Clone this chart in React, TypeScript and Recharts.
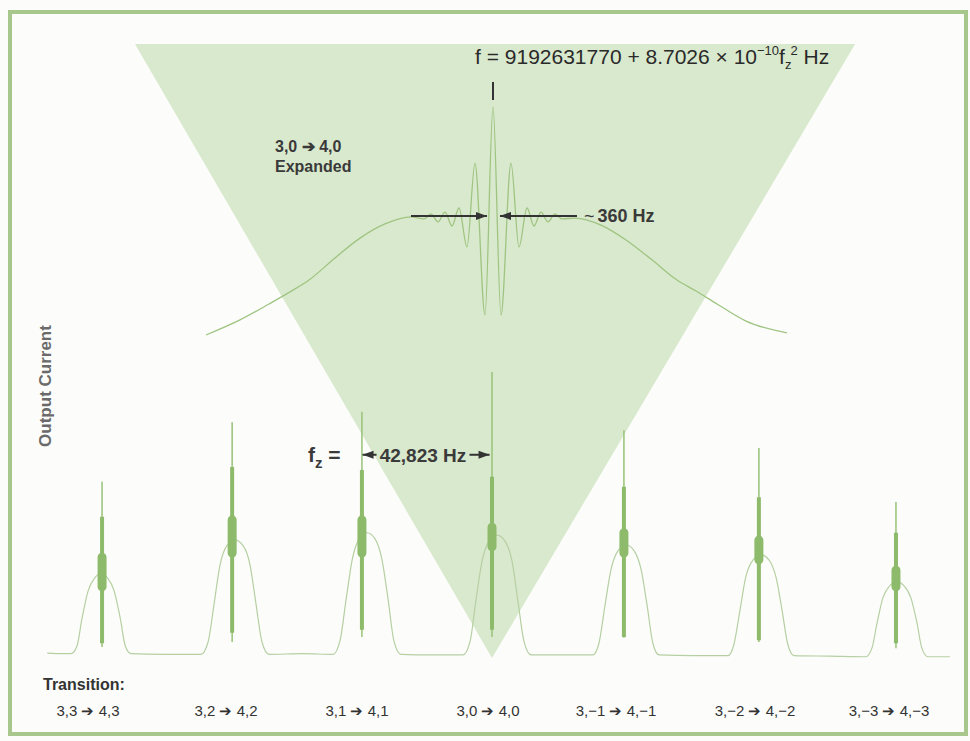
import React from "react";
import {
  ComposedChart,
  Line,
  Area,
  XAxis,
  YAxis,
  ReferenceLine,
  ReferenceDot,
} from "recharts";

// ---------------- data ----------------
// Lower trace: frequency offset from the 3,0 -> 4,0 line (kHz) vs output current (arb.)
const lowerKHz = [
  -146.0, -141.0,
  -138.2, -136.2, -134.6, -132.6, -130.3, -128.3, -126.3, -124.0, -122.0, -120.4, -118.5,
  -108.0,
  -95.5, -93.2, -91.2, -89.3, -87.0, -84.3, -81.7, -79.4, -77.5, -75.5, -73.2,
  -62.0,
  -52.2, -49.9, -47.9, -45.9, -43.6, -41.0, -38.4, -36.1, -34.1, -32.2, -29.9,
  -20.0,
  -9.5, -7.2, -5.3, -3.3, -1.0, 1.6, 4.3, 6.6, 8.5, 10.5, 12.8,
  23.0,
  33.1, 35.1, 37.1, 39.1, 41.4, 44.0, 46.6, 48.9, 50.9, 52.8, 54.8,
  66.0,
  77.5, 79.4, 81.4, 83.3, 85.7, 88.3, 90.9, 93.2, 95.2, 97.1, 99.1,
  111.0,
  122.7, 124.7, 126.4, 128.3, 130.6, 132.9, 135.2, 137.5, 139.5, 141.1, 143.1,
  150.3,
];
const lowerCurrent = [
  0.8, 0.7,
  0.7, 2.0, 6.4, 10.9, 13.1, 13.8, 13.1, 10.9, 6.4, 2.0, 0.7,
  0.6,
  0.6, 2.6, 8.9, 15.1, 18.3, 19.2, 18.3, 15.1, 8.9, 2.6, 0.6,
  0.7,
  0.6, 2.8, 9.5, 16.0, 19.4, 20.4, 19.4, 16.0, 9.5, 2.8, 0.6,
  0.5,
  0.5, 2.7, 9.3, 15.7, 19.0, 20.0, 19.0, 15.7, 9.3, 2.7, 0.5,
  0.5,
  0.5, 2.4, 8.6, 14.5, 17.5, 18.4, 17.5, 14.5, 8.6, 2.4, 0.5,
  0.4,
  0.4, 2.2, 7.8, 13.2, 16.0, 16.8, 16.0, 13.2, 7.8, 2.2, 0.4,
  0.3,
  0.2, 1.6, 5.7, 9.8, 11.8, 12.4, 11.8, 9.8, 5.7, 1.6, 0.2,
  0.2,
];

// Ramsey fringes sitting on each Rabi pedestal
const peakLabels = [
  "3,3 \u2794 4,3",
  "3,2 \u2794 4,2",
  "3,1 \u2794 4,1",
  "3,0 \u2794 4,0",
  "3,\u22121 \u2794 4,\u22121",
  "3,\u22122 \u2794 4,\u22122",
  "3,\u22123 \u2794 4,\u22123",
];
const peakKHz = [-128.0, -85.3, -42.7, 0, 43.3, 87.6, 132.6];
const spikeTop = [28.7, 38.4, 40.1, 46.6, 37.1, 34.2, 25.4];
const spikeBottom = [1.8, 2.6, 3.4, 3.4, 3.3, 2.6, 1.6];
const bandTop = [23.0, 31.1, 30.6, 29.5, 27.9, 26.2, 20.4];
const bandBottom = [2.4, 4.1, 4.6, 4.6, 3.4, 2.9, 2.4];
const blobTop = [16.4, 22.5, 22.5, 21.3, 20.4, 19.2, 14.3];
const blobBottom = [11.6, 17.1, 17.1, 18.1, 17.1, 16.0, 11.6];

// Expanded 3,0 -> 4,0 line: offset (Hz) vs output current (arb.)
const expandedHz = [
  -11480, -10120, -8960, -8120, -7360, -6320, -5320, -4320, -3280, -2760, -2480, -2200,
  -1920, -1640, -1360, -1040, -720, -320, 0, 320, 720, 1040, 1360, 1640, 1920, 2200,
  2480, 2760, 3280, 4320, 5320, 6320, 7360, 8120, 8960, 10120, 11760,
];
const expandedCurrent = [
  0, 6.6, 13.6, 18.9, 24.1, 33.8, 42.5, 48.7, 51.8, 50.9, 53.1, 49.6,
  53.9, 47.8, 55.7, 38.6, 75.4, 8.8, 100, 8.8, 75.4, 38.6, 55.7, 47.8, 53.9, 49.6,
  53.1, 50.9, 51.3, 48.2, 41.7, 33.3, 24.1, 19.3, 13.6, 6.1, 0.9,
];

// "Magnifier" wedge from the expanded view down to the centre line (main axes)
const wedgeKHz = [-117.2, 0, 119.2];
const wedgeLow = [100, 0, 100];
const wedgeHigh = [100, 100, 100];

// Annotation values
const fzSpacingKHz = [-42.5, -0.8]; // f_z = 42,823 Hz arrow tips
const fzArrowY = 33.1;
const fringeArrowHz = [-3280, -240, 280, 3360];
const fringeArrowY = 52.2;
const markerHz = 0;
const markerY = [103.1, 111.0];

// ---------------- derived series ----------------
const lowerData = lowerKHz.map((x, i) => ({ x, y: lowerCurrent[i] }));
const expandedData = expandedHz.map((x, i) => ({ x, y: expandedCurrent[i] }));
const wedgeData = wedgeKHz.map((x, i) => ({ x, y: [wedgeLow[i], wedgeHigh[i]] }));
const segs = (tops: number[], bottoms: number[]) =>
  peakKHz.flatMap((x, i) => [
    { x, y: bottoms[i] },
    { x, y: tops[i] },
    { x, y: null },
  ]);
const spikeData = segs(spikeTop, spikeBottom);
const bandData = segs(bandTop, bandBottom);
const blobData = segs(blobTop, blobBottom);

// ---------------- styling ----------------
const W = 970;
const H = 741;
const FONT = "'Liberation Sans', Arial, sans-serif";
const INK = "#333333";
const SPIKE = "#8dbb6b";

const arrowHead = (dir: number) => (p: any) => {
  const { cx, cy } = p;
  const L = 11;
  const h = 4;
  return (
    <polygon
      points={`${cx},${cy} ${cx - dir * L},${cy - h} ${cx - dir * L},${cy + h}`}
      fill={INK}
    />
  );
};

const labelX = [88, 226, 357, 488, 616, 755, 889];

export default function App() {
  return (
    <div
      style={{
        position: "relative",
        width: W,
        height: H,
        background: "#fcfdfa",
        overflow: "hidden",
      }}
    >
      <style>{"body{margin:0;}"}</style>
      <div
        style={{
          position: "absolute",
          left: 8,
          top: 10,
          width: 960,
          height: 726,
          boxSizing: "border-box",
          border: "4px solid #a7c78d",
        }}
      />
      <div style={{ position: "absolute", left: 0, top: 0 }}>
        <ComposedChart
          width={W}
          height={H}
          margin={{ top: 0, right: 0, bottom: 0, left: 0 }}
        >
          <XAxis
            xAxisId="main"
            type="number"
            dataKey="x"
            domain={[-161.5, 156.9]}
            allowDataOverflow
            hide
          />
          <YAxis
            yAxisId="main"
            type="number"
            domain={[-13.52, 107.17]}
            allowDataOverflow
            hide
          />
          <XAxis
            xAxisId="exp"
            type="number"
            dataKey="x"
            domain={[-19720, 19080]}
            allowDataOverflow
            hide
          />
          <YAxis
            yAxisId="exp"
            type="number"
            domain={[-178.07, 146.93]}
            allowDataOverflow
            hide
          />

          <Area
            xAxisId="main"
            yAxisId="main"
            data={wedgeData}
            dataKey="y"
            type="linear"
            stroke="none"
            fill="#d9e9cd"
            fillOpacity={1}
            isAnimationActive={false}
            dot={false}
            activeDot={false}
          />

          <Line
            xAxisId="main"
            yAxisId="main"
            data={lowerData}
            dataKey="y"
            type="monotone"
            stroke="#b6cfa3"
            strokeWidth={1.2}
            dot={false}
            activeDot={false}
            isAnimationActive={false}
          />
          <Line
            xAxisId="main"
            yAxisId="main"
            data={spikeData}
            dataKey="y"
            type="linear"
            stroke="#97c277"
            strokeWidth={1.5}
            connectNulls={false}
            dot={false}
            activeDot={false}
            isAnimationActive={false}
          />
          <Line
            xAxisId="main"
            yAxisId="main"
            data={bandData}
            dataKey="y"
            type="linear"
            stroke={SPIKE}
            strokeWidth={4}
            connectNulls={false}
            dot={false}
            activeDot={false}
            isAnimationActive={false}
          />
          <Line
            xAxisId="main"
            yAxisId="main"
            data={blobData}
            dataKey="y"
            type="linear"
            stroke={SPIKE}
            strokeWidth={9}
            strokeLinecap="round"
            connectNulls={false}
            dot={false}
            activeDot={false}
            isAnimationActive={false}
          />

          <Line
            xAxisId="exp"
            yAxisId="exp"
            data={expandedData}
            dataKey="y"
            type="monotone"
            stroke="#9fc482"
            strokeWidth={1.3}
            dot={false}
            activeDot={false}
            isAnimationActive={false}
          />

          {/* centre marker under the formula */}
          <ReferenceLine
            xAxisId="exp"
            yAxisId="exp"
            segment={[
              { x: markerHz, y: markerY[0] },
              { x: markerHz, y: markerY[1] },
            ]}
            stroke={INK}
            strokeWidth={2}
          />
          {/* ~360 Hz arrows */}
          <ReferenceLine
            xAxisId="exp"
            yAxisId="exp"
            segment={[
              { x: fringeArrowHz[0], y: fringeArrowY },
              { x: fringeArrowHz[1], y: fringeArrowY },
            ]}
            stroke={INK}
            strokeWidth={2}
          />
          <ReferenceLine
            xAxisId="exp"
            yAxisId="exp"
            segment={[
              { x: fringeArrowHz[2], y: fringeArrowY },
              { x: fringeArrowHz[3], y: fringeArrowY },
            ]}
            stroke={INK}
            strokeWidth={2}
          />
          <ReferenceDot
            xAxisId="exp"
            yAxisId="exp"
            x={fringeArrowHz[1]}
            y={fringeArrowY}
            r={0}
            shape={arrowHead(1)}
          />
          <ReferenceDot
            xAxisId="exp"
            yAxisId="exp"
            x={fringeArrowHz[2]}
            y={fringeArrowY}
            r={0}
            shape={arrowHead(-1)}
          />
          {/* f_z spacing arrows */}
          <ReferenceLine
            xAxisId="main"
            yAxisId="main"
            segment={[
              { x: fzSpacingKHz[0], y: fzArrowY },
              { x: fzSpacingKHz[0] + 4.6, y: fzArrowY },
            ]}
            stroke={INK}
            strokeWidth={2}
          />
          <ReferenceLine
            xAxisId="main"
            yAxisId="main"
            segment={[
              { x: fzSpacingKHz[1] - 6.6, y: fzArrowY },
              { x: fzSpacingKHz[1], y: fzArrowY },
            ]}
            stroke={INK}
            strokeWidth={2}
          />
          <ReferenceDot
            xAxisId="main"
            yAxisId="main"
            x={fzSpacingKHz[0]}
            y={fzArrowY}
            r={0}
            shape={arrowHead(-1)}
          />
          <ReferenceDot
            xAxisId="main"
            yAxisId="main"
            x={fzSpacingKHz[1]}
            y={fzArrowY}
            r={0}
            shape={arrowHead(1)}
          />
        </ComposedChart>
      </div>

      <svg
        width={W}
        height={H}
        style={{ position: "absolute", left: 0, top: 0, pointerEvents: "none" }}
        fontFamily={FONT}
      >
        <text x={475} y={64} fontSize={21} fill="#2a2a2a">
          f = 9192631770 + 8.7026 × 10
          <tspan dy={-9} fontSize={13}>
            {"\u221210"}
          </tspan>
          <tspan dy={9} fontSize={21}>
            {"f"}
          </tspan>
          <tspan dy={5} fontSize={13}>
            z
          </tspan>
          <tspan dy={-14} dx={-1} fontSize={13}>
            2
          </tspan>
          <tspan dy={9} fontSize={21}>
            {"\u00a0Hz"}
          </tspan>
        </text>

        <text x={275} y={152} fontSize={16} fontWeight="bold" fill="#3a3a3a">
          3,0 {"\u2794"} 4,0
        </text>
        <text x={275} y={172} fontSize={16} fontWeight="bold" fill="#3a3a3a">
          Expanded
        </text>

        <text x={584} y={222} fontSize={18} fill="#3a3a3a">
          ~
          <tspan fontWeight="bold" dx={3}>
            360 Hz
          </tspan>
        </text>

        <text
          transform="translate(45,386) rotate(-90)"
          textAnchor="middle"
          dominantBaseline="central"
          fontSize={17}
          fontWeight="bold"
          fill="#6a6a6a"
        >
          Output Current
        </text>

        <text x={308} y={462} fontSize={21} fontWeight="bold" fill="#3a3a3a">
          f
          <tspan dy={6} fontSize={15}>
            z
          </tspan>
          <tspan dy={-6} fontSize={21}>
            {"\u00a0="}
          </tspan>
        </text>
        <text
          x={423}
          y={462}
          fontSize={19}
          fontWeight="bold"
          fill="#3a3a3a"
          textAnchor="middle"
        >
          42,823 Hz
        </text>

        <text x={43} y={690} fontSize={16} fontWeight="bold" fill="#333">
          Transition:
        </text>
        {peakLabels.map((t, i) => (
          <text
            key={t}
            x={labelX[i]}
            y={716}
            fontSize={15}
            fill="#333"
            textAnchor="middle"
          >
            {t}
          </text>
        ))}
      </svg>
    </div>
  );
}
